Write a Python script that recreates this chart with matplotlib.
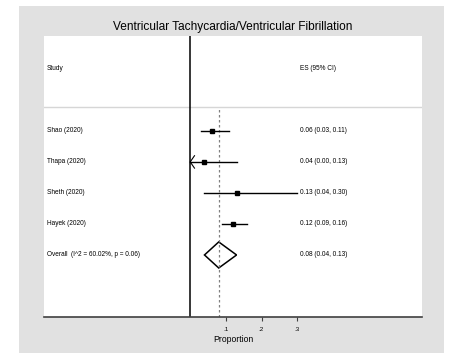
import numpy as np
import matplotlib.pyplot as plt
from matplotlib.patches import Rectangle, Polygon

plt.rcParams['font.family'] = ['Liberation Sans', 'DejaVu Sans']

studies = ['Shao (2020)', 'Thapa (2020)', 'Sheth (2020)', 'Hayek (2020)']
es = [0.06, 0.04, 0.13, 0.12]
ci_lo = [0.03, 0.00, 0.04, 0.09]
ci_hi = [0.11, 0.13, 0.30, 0.16]
overall_label = 'Overall  (I^2 = 60.02%, p = 0.06)'
overall_es = 0.08
overall_lo = 0.04
overall_hi = 0.13
es_text = ['0.06 (0.03, 0.11)', '0.04 (0.00, 0.13)', '0.13 (0.04, 0.30)',
           '0.12 (0.09, 0.16)']
overall_text = '0.08 (0.04, 0.13)'
ticks = [0.1, 0.2, 0.3]
tick_labels = ['.1', '.2', '.3']
title = 'Ventricular Tachycardia/Ventricular Fibrillation'

W, H = 449, 353
fig = plt.figure(figsize=(W / 100, H / 100), dpi=100)
fig.patch.set_facecolor('white')
# gray stata-like background panel
fig.patches.append(Rectangle((19 / W, 0), (444 - 19) / W, (H - 6) / H,
                             transform=fig.transFigure, facecolor='#e1e1e1',
                             edgecolor='none', zorder=-10))

ax = fig.add_axes([44 / W, (H - 317) / H, (422 - 44) / W, (317 - 36) / H])
ax.set_facecolor('white')
ax.set_xlim(-0.41, 0.65)
ax.set_ylim(-2, 7.06)

n = len(studies)
ys = np.arange(n, 0, -1)  # Shao at top
header_y = n + 2
sep_y = n + 0.77
tr = ax.get_yaxis_transform()

ax.axhline(sep_y, color='#d6d6d6', lw=1)
ax.axvline(0, color='black', lw=1.1)
ax.vlines(overall_es, -2, sep_y, colors='#808080', linestyles=(0, (2, 2)), lw=0.9)

for y, e, lo, hi in zip(ys, es, ci_lo, ci_hi):
    ax.plot([lo, hi], [y, y], color='black', lw=1)
    ax.plot(e, y, marker='s', ms=2.4, color='black')
    if lo <= 0:
        ax.plot([lo + 0.012, lo, lo + 0.012], [y + 0.2, y, y - 0.2],
                color='black', lw=0.8)

diamond = Polygon([[overall_lo, 0], [overall_es, 0.42], [overall_hi, 0],
                   [overall_es, -0.42]], closed=True, facecolor='white',
                  edgecolor='black', lw=1.1)
ax.add_patch(diamond)

fs = 4.7
ax.text(0.008, header_y, 'Study', transform=tr, fontsize=fs, va='center')
ax.text(0.677, header_y, 'ES (95% CI)', transform=tr, fontsize=fs, va='center')
for y, s, t in zip(ys, studies, es_text):
    ax.text(0.008, y, s, transform=tr, fontsize=fs, va='center')
    ax.text(0.677, y, t, transform=tr, fontsize=fs, va='center')
ax.text(0.008, 0, overall_label, transform=tr, fontsize=fs, va='center')
ax.text(0.677, 0, overall_text, transform=tr, fontsize=fs, va='center')

for s in ['left', 'top', 'right']:
    ax.spines[s].set_visible(False)
ax.spines['bottom'].set_color('#404040')
ax.spines['bottom'].set_linewidth(1.2)
ax.set_yticks([])
ax.set_xticks(ticks)
ax.set_xticklabels(tick_labels)
ax.tick_params(axis='x', length=3, width=0.8, labelsize=4.5, pad=4.5,
               color='#404040')
ax.set_xlabel('Proportion', fontsize=6.2, labelpad=2)

fig.text(233 / W, 1 - 27 / H, title, fontsize=8.6, ha='center', va='center')

fig.savefig('out.png', dpi=100)
